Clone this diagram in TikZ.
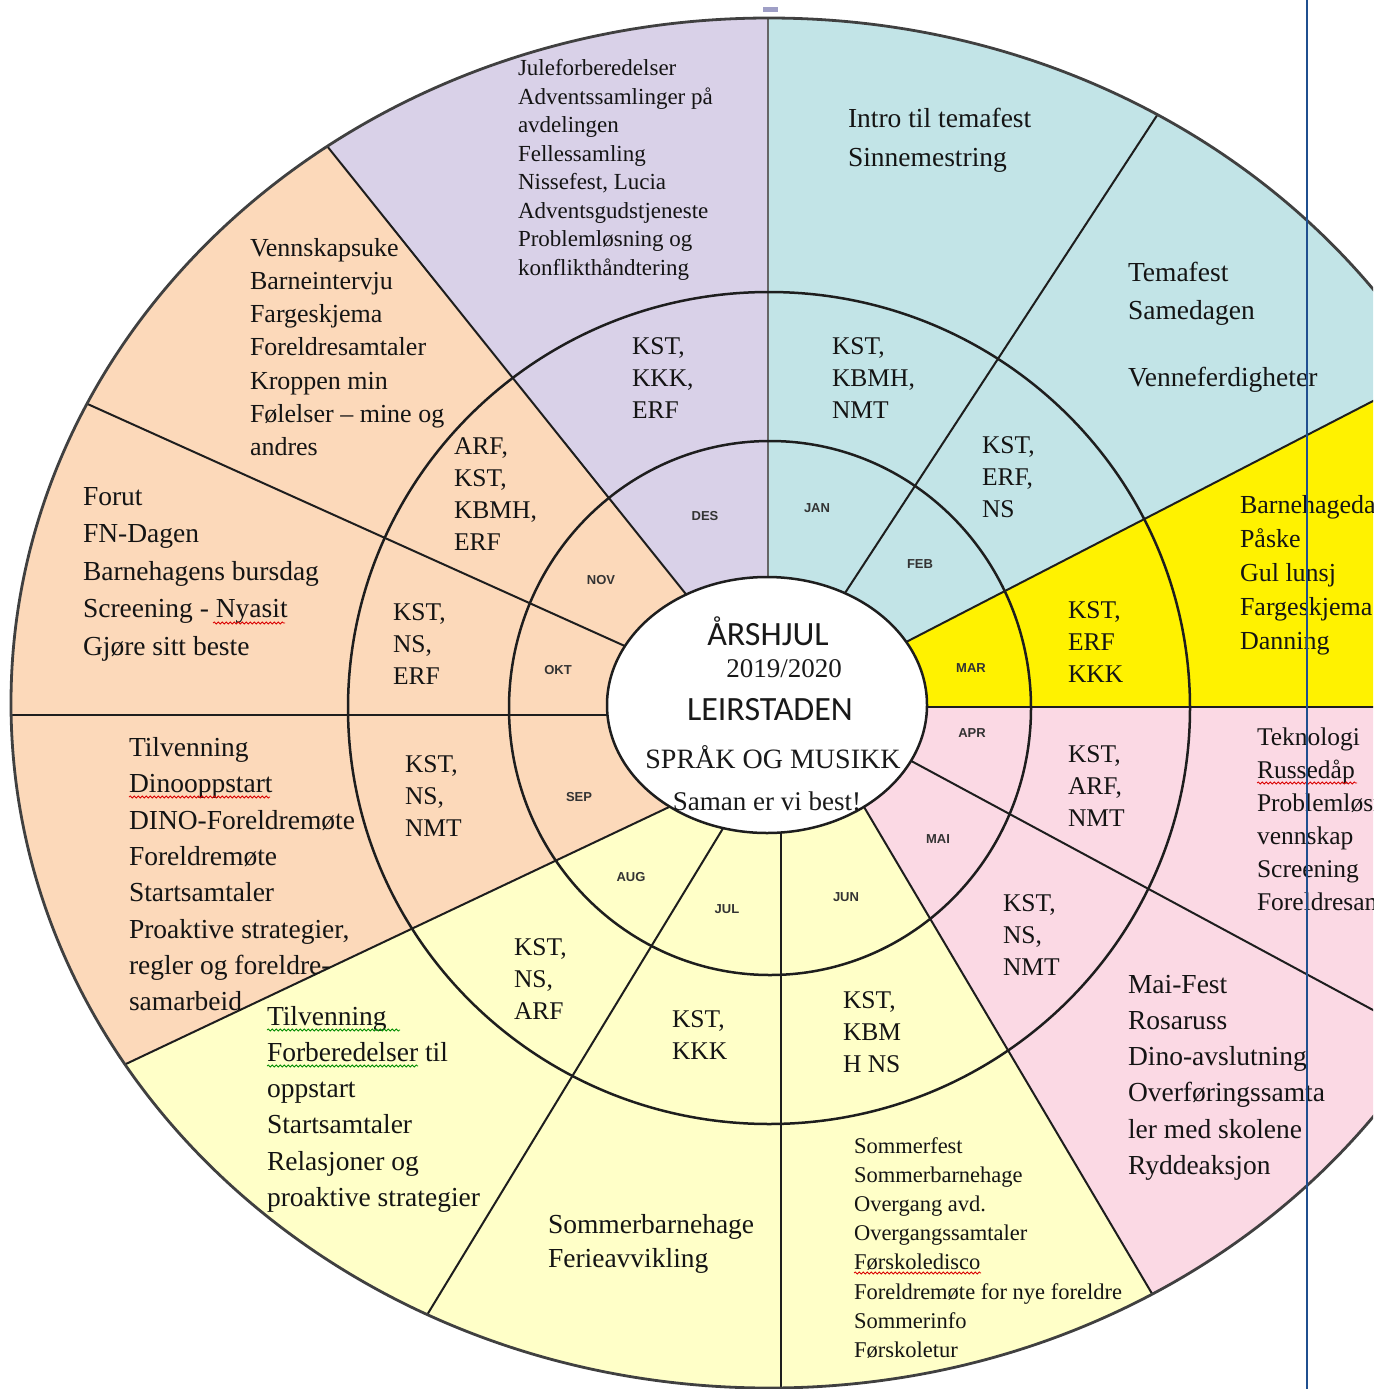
\documentclass[tikz,border=0pt]{standalone}
\usepackage{fontspec}
\setmainfont{Liberation Serif}
\newfontfamily\calfont{Carlito}
\newfontfamily\armfont{Liberation Sans}
\usetikzlibrary{calc,decorations.pathmorphing}
\definecolor{peach}{HTML}{FCD9BA}
\definecolor{lav}{HTML}{D9D1E8}
\definecolor{teal1}{HTML}{C2E4E7}
\definecolor{yel}{HTML}{FFF200}
\definecolor{pink1}{HTML}{FBD9E4}
\definecolor{lyel}{HTML}{FFFFC8}
\definecolor{edge}{HTML}{1E1E1E}
\definecolor{pageblue}{HTML}{1F4F8F}
\begin{document}
\begin{tikzpicture}[x=1pt,y=-1pt,
  divline/.style={draw=edge,line width=2pt},
  ringline/.style={draw=edge,line width=2.5pt},
  blk/.style={anchor=north west,inner sep=0pt,outer sep=0pt,align=left,text=black!92},
  kst/.style={blk,font=\fontsize{25.5}{32}\selectfont},
  mon/.style={inner sep=0pt,font=\armfont\bfseries\fontsize{13}{15}\selectfont,text=black!80},
  ctr/.style={inner sep=0pt,anchor=base,text=black!90},
  spell/.style={decorate,decoration={snake,amplitude=1pt,segment length=4pt},line width=0.8pt,draw=red!85!black},
  gspell/.style={spell,draw=green!55!black}]
\useasboundingbox (0,0) rectangle (1373,1389);
\clip (0,0) rectangle (1373,1389);

% dividing lines: inner point (on centre ellipse) and outer point
\coordinate (I1) at (768,577);  \coordinate (O1) at (768,18);
\coordinate (I2) at (845,593);  \coordinate (O2) at (1154,120);
\coordinate (I3) at (910,640);  \coordinate (O3) at (1373,401);
\coordinate (I4) at (927,707);  \coordinate (O4) at (1527,707);
\coordinate (I5) at (915,763);  \coordinate (O5) at (1373,1010);
\coordinate (I6) at (867,812);  \coordinate (O6) at (1154,1297);
\coordinate (I7) at (781,833);  \coordinate (O7) at (781,1388);
\coordinate (I8) at (722,830);  \coordinate (O8) at (427,1315);
\coordinate (I9) at (667,808);  \coordinate (O9) at (128,1063);
\coordinate (I10) at (607,715); \coordinate (O10) at (12,715);
\coordinate (I11) at (627,647); \coordinate (O11) at (92,406);
\coordinate (I12) at (685,593); \coordinate (O12) at (327,146);
\foreach \i in {1,...,12}{
  \coordinate (P\i) at ($(I\i)!-0.06!(O\i)$);
  \coordinate (F\i) at ($(I\i)!2.5!(O\i)$);
}

\begin{scope}
  \clip (769,703) ellipse [x radius=758,y radius=685];
  \fill[lav]   (P12)--(F12)--(F1)--(P1)--cycle;
  \fill[teal1] (P1)--(F1)--(F2)--(P2)--cycle;
  \fill[teal1] (P2)--(F2)--(F3)--(P3)--cycle;
  \fill[yel]   (P3)--(F3)--(F4)--(P4)--cycle;
  \fill[pink1] (P4)--(F4)--(F5)--(P5)--cycle;
  \fill[pink1] (P5)--(F5)--(F6)--(P6)--cycle;
  \fill[lyel]  (P6)--(F6)--(F7)--(P7)--cycle;
  \fill[lyel]  (P7)--(F7)--(F8)--(P8)--cycle;
  \fill[lyel]  (P8)--(F8)--(F9)--(P9)--cycle;
  \fill[peach] (P9)--(F9)--(F10)--(P10)--cycle;
  \fill[peach] (P10)--(F10)--(F11)--(P11)--cycle;
  \fill[peach] (P11)--(F11)--(F12)--(P12)--cycle;
  \draw[draw=black!60,line width=2.5pt] (P1) -- (F1);
  \foreach \i in {2,...,12} \draw[divline] (P\i) -- (F\i);
\end{scope}

% rings
\draw[ringline] (769,708) ellipse [x radius=421,y radius=416];
\draw[ringline] (770,708) ellipse [x radius=261,y radius=267];
\draw[draw=edge!85,line width=2.8pt] (769,703) ellipse [x radius=758,y radius=685];
\draw[ringline,fill=white] (767,705) ellipse [x radius=160,y radius=128];

% outer ring texts
\node[blk,font=\fontsize{23}{28.5}\selectfont] (tDES) at (518,56) {\strut Juleforberedelser\\Adventssamlinger på\\avdelingen\\Fellessamling\\Nissefest, Lucia\\Adventsgudstjeneste\\Problemløsning og\\konflikthåndtering};
\node[blk,font=\fontsize{27.5}{39}\selectfont] (tJAN) at (848,99.7) {\strut Intro til temafest\\Sinnemestring};
\node[blk,font=\fontsize{27.5}{38}\selectfont] (tFEB) at (1128,254.4) {\strut Temafest\\Samedagen\\[29pt]Venneferdigheter};
\node[blk,font=\fontsize{26}{34.2}\selectfont] (tMAR) at (1240,489.1) {\strut Barnehagedagen\\Påske\\Gul lunsj\\Fargeskjema\\Danning};
\node[blk,font=\fontsize{25.5}{33}\selectfont] (tAPR) at (1257,721.9) {\strut Teknologi\\Russedåp\\Problemløsning og\\vennskap\\Screening\\Foreldresamtaler};
\node[blk,font=\fontsize{27.5}{36.3}\selectfont] (tMAI) at (1128,967.6) {\strut Mai-Fest\\Rosaruss\\Dino-avslutning\\Overføringssamta\\ler med skolene\\Ryddeaksjon};
\node[blk,font=\fontsize{22.5}{29.2}\selectfont] (tJUN) at (854,1132.6) {\strut Sommerfest\\Sommerbarnehage\\Overgang avd.\\Overgangssamtaler\\Førskoledisco\\Foreldremøte for nye foreldre\\Sommerinfo\\Førskoletur};
\node[blk,font=\fontsize{27.5}{34}\selectfont] (tJUL) at (548,1209.2) {\strut Sommerbarnehage\\Ferieavvikling};
\node[blk,font=\fontsize{27.5}{36.3}\selectfont] (tAUG) at (267,999.6) {\strut Tilvenning\\Forberedelser til\\oppstart\\Startsamtaler\\Relasjoner og\\proaktive strategier};
\node[blk,font=\fontsize{27.5}{36.3}\selectfont] (tSEP) at (129,731.1) {\strut Tilvenning\\Dinooppstart\\DINO-Foreldremøte\\Foreldremøte\\Startsamtaler\\Proaktive strategier,\\regler og foreldre-\\samarbeid};
\node[blk,font=\fontsize{27.5}{37.5}\selectfont] (tOKT) at (83,478.75) {\strut Forut\\FN-Dagen\\Barnehagens bursdag\\Screening - Nyasit\\Gjøre sitt beste};
\node[blk,font=\fontsize{26}{33.3}\selectfont] (tNOV) at (250,232.7) {\strut Vennskapsuke\\Barneintervju\\Fargeskjema\\Foreldresamtaler\\Kroppen min\\Følelser – mine og\\andres};

% middle ring texts
\node[kst] (kDES) at (632,331.6) {\strut KST,\\KKK,\\ERF};
\node[kst] (kJAN) at (832,331.6) {\strut KST,\\KBMH,\\NMT};
\node[kst] (kFEB) at (982,430.6) {\strut KST,\\ERF,\\NS};
\node[kst] (kMAR) at (1068,595.6) {\strut KST,\\ERF\\KKK};
\node[kst] (kAPR) at (1068,739.6) {\strut KST,\\ARF,\\NMT};
\node[kst] (kMAI) at (1003,888.6) {\strut KST,\\NS,\\NMT};
\node[kst] (kJUN) at (843,985.6) {\strut KST,\\KBM\\H NS};
\node[kst] (kJUL) at (672,1004.6) {\strut KST,\\KKK};
\node[kst] (kAUG) at (514,932.6) {\strut KST,\\NS,\\ARF};
\node[kst] (kSEP) at (405,749.6) {\strut KST,\\NS,\\NMT};
\node[kst] (kOKT) at (393,597.6) {\strut KST,\\NS,\\ERF};
\node[kst] (kNOV) at (454,431.6) {\strut ARF,\\KST,\\KBMH,\\ERF};

% month labels
\node[mon] (mDES) at (705,516) {DES};
\node[mon] (mJAN) at (817,508) {JAN};
\node[mon] (mFEB) at (920,564) {FEB};
\node[mon] (mMAR) at (971,668) {MAR};
\node[mon] (mAPR) at (972,733) {APR};
\node[mon] (mMAI) at (938,839) {MAI};
\node[mon] (mJUN) at (846,897) {JUN};
\node[mon] (mJUL) at (727,909) {JUL};
\node[mon] (mAUG) at (631,877) {AUG};
\node[mon] (mSEP) at (579,797) {SEP};
\node[mon] (mOKT) at (558,670) {OKT};
\node[mon] (mNOV) at (601,580) {NOV};

% centre
\node[ctr,font=\calfont\fontsize{34}{40}\selectfont] (hTitle) at (768,645) {ÅRSHJUL};
\node[ctr,font=\fontsize{27}{32}\selectfont] (hYear) at (784,677) {2019/2020};
\node[ctr,font=\calfont\fontsize{34}{40}\selectfont] (hName) at (770,720) {LEIRSTADEN};
\node[ctr,font=\fontsize{28}{33}\selectfont] (hTheme) at (773,768) {SPRÅK OG MUSIKK};
\node[ctr,font=\fontsize{27}{32}\selectfont] (hMotto) at (767,810) {Saman er vi best!};

% spell-check underlines
\draw[spell] (213,623) -- (285,623);
\draw[spell] (129,797) -- (270,797);
\draw[spell] (1257,783) -- (1357,783);
\draw[spell] (854,1273) -- (981,1273);
\draw[gspell] (267,1030) -- (400,1030);
\draw[gspell] (267,1066) -- (418,1066);

% page edge line and top mark
\draw[pageblue,line width=2pt] (1307,0) -- (1307,1389);
\fill[blue!25!gray!60] (763,7) rectangle (778,12);
\end{tikzpicture}
\end{document}
